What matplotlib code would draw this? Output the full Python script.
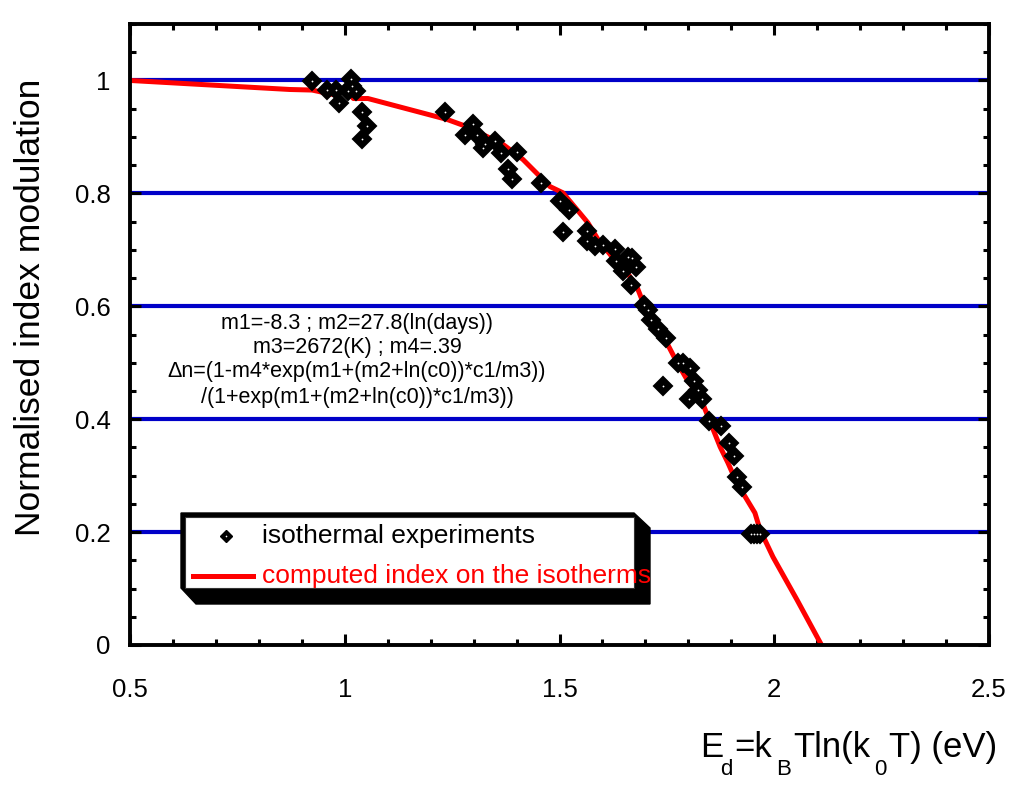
import numpy as np
import matplotlib
matplotlib.use("Agg")
import matplotlib.pyplot as plt
from matplotlib.ticker import MultipleLocator, FormatStrFormatter
from matplotlib.patches import Polygon, Rectangle

plt.rcParams['font.family'] = ['Liberation Sans', 'DejaVu Sans']

# isothermal experiments
exp_x = [0.923, 0.959, 0.979, 0.987, 1.014, 1.008, 1.026, 1.016, 1.041, 1.052, 1.041,
         1.234, 1.299, 1.280, 1.308, 1.326, 1.322, 1.350, 1.363, 1.400, 1.381, 1.390,
         1.458, 1.501, 1.521, 1.509, 1.565, 1.565, 1.583, 1.602, 1.630, 1.631, 1.647,
         1.660, 1.668, 1.677, 1.666, 1.697, 1.707, 1.712, 1.730, 1.748, 1.740, 1.777,
         1.787, 1.804, 1.813, 1.823, 1.831, 1.802, 1.849, 1.877, 1.895, 1.906, 1.914,
         1.924, 1.947, 1.954, 1.960, 1.967]
exp_y = [0.999, 0.983, 0.983, 0.960, 1.002, 0.981, 0.981, 0.990, 0.944, 0.920, 0.897,
         0.944, 0.922, 0.904, 0.904, 0.887, 0.880, 0.892, 0.871, 0.873, 0.843, 0.826,
         0.818, 0.787, 0.770, 0.732, 0.734, 0.716, 0.707, 0.709, 0.702, 0.680, 0.662,
         0.688, 0.685, 0.669, 0.638, 0.603, 0.594, 0.576, 0.560, 0.544, 0.459, 0.499,
         0.499, 0.491, 0.467, 0.452, 0.435, 0.435, 0.397, 0.388, 0.357, 0.334, 0.297,
         0.279, 0.197, 0.197, 0.197, 0.197]

# computed index on the isotherms
calc_x = [0.5, 0.872, 0.924, 0.973, 0.989, 1.010, 1.020, 1.054, 1.238, 1.285, 1.322,
          1.368, 1.415, 1.478, 1.508, 1.566, 1.590, 1.622, 1.657, 1.680, 1.695, 1.718,
          1.750, 1.774, 1.797, 1.827, 1.855, 1.874, 1.892, 1.913, 1.955, 1.967, 1.997,
          2.053, 2.110]
calc_y = [1.0, 0.984, 0.983, 0.975, 0.982, 0.982, 0.968, 0.968, 0.931, 0.918, 0.904,
          0.887, 0.860, 0.812, 0.801, 0.748, 0.718, 0.688, 0.660, 0.635, 0.606, 0.571,
          0.535, 0.500, 0.470, 0.440, 0.387, 0.351, 0.323, 0.287, 0.234, 0.204, 0.156,
          0.080, 0.0]

grid_levels = [0.2, 0.4, 0.6, 0.8, 1.0]
y_ticks = [0, 0.2, 0.4, 0.6, 0.8, 1.0]

note_lines = ["m1=-8.3 ; m2=27.8(ln(days))",
              "m3=2672(K) ; m4=.39",
              "\u0394n=(1-m4*exp(m1+(m2+ln(c0))*c1/m3))",
              "/(1+exp(m1+(m2+ln(c0))*c1/m3))"]

# x label pieces: (text, is_subscript)
xlabel_parts = [("E", False), ("d", True), ("=k", False), ("B", True),
                ("Tln(k", False), ("0", True), ("T) (eV)", False)]

W, H = 1024, 798
fig = plt.figure(figsize=(W / 100, H / 100), dpi=100)
ax = fig.add_axes([130 / W, 1 - 645 / H, (989 - 130) / W, (645 - 24) / H])

for g in grid_levels:
    ax.axhline(g, color='#0000c8', lw=3, zorder=1)

ax.plot(calc_x, calc_y, color='red', lw=3.6, zorder=2, solid_joinstyle='round')
ax.plot(exp_x, exp_y, ls='none', marker='D', ms=8.8, mfc='black', mec='black',
        mew=1.5, zorder=3)
ax.plot(exp_x, exp_y, ls='none', marker='o', ms=1.3, mfc='white', mec='none',
        zorder=4)

ax.set_xlim(0.5, 2.5)
ax.set_ylim(0, 1.1)
ax.xaxis.set_major_locator(MultipleLocator(0.5))
ax.xaxis.set_minor_locator(MultipleLocator(0.1))
ax.yaxis.set_minor_locator(MultipleLocator(0.05))
ax.set_yticks(y_ticks)
ax.xaxis.set_major_formatter(FormatStrFormatter('%g'))
ax.yaxis.set_major_formatter(FormatStrFormatter('%g'))

for s in ax.spines.values():
    s.set_linewidth(2.8)
ax.tick_params(which='both', direction='in', top=True, right=True, labelsize=18.5,
               width=2.2)
ax.tick_params(which='major', length=8)
ax.tick_params(which='minor', length=4)
ax.tick_params(axis='x', pad=24)
ax.tick_params(axis='y', pad=14)

fig.text(31 / W, 1 - 307 / H, "Normalised index modulation", rotation=90,
         ha='center', va='center', fontsize=25.5)

# x label drawn piece by piece, subscripts dropped well below the baseline
renderer = fig.canvas.get_renderer()
xpos = 700
for txt, sub in xlabel_parts:
    if sub:
        t = fig.text(xpos / W, 1 - 775 / H, txt, ha='left', va='baseline',
                     fontsize=16)
    else:
        t = fig.text(xpos / W, 1 - 757 / H, txt, ha='left', va='baseline',
                     fontsize=25)
    wpx = t.get_window_extent(renderer).width
    xpos += wpx + (2 if sub else (-3 if txt == "E" else 4))

line_y = [323, 347, 372, 397]
for txt, yy in zip(note_lines, line_y):
    fig.text(357 / W, 1 - yy / H, txt, ha='center', va='center', fontsize=15.5)

# legend with shaded box
def fp(x, y):
    return (x / W, 1 - y / H)

shadow = Polygon([fp(181, 513), fp(634, 513), fp(650, 528), fp(650, 604),
                  fp(196, 604), fp(181, 588)], closed=True, fc='black', ec='black',
                 transform=fig.transFigure, zorder=5)
fig.patches.append(shadow)
box = Rectangle(fp(185, 588), (634 - 185) / W, (588 - 517) / H, fc='white',
                ec='#333333', lw=0.8, transform=fig.transFigure, zorder=6)
fig.patches.append(box)
fig.lines.append(plt.Line2D([226 / W], [1 - 536 / H], ls='none', marker='D', ms=6,
                            mfc='black', mec='black', mew=1,
                            transform=fig.transFigure, zorder=7))
fig.lines.append(plt.Line2D([226 / W], [1 - 536 / H], ls='none', marker='o', ms=1.2,
                            mfc='white', mec='none',
                            transform=fig.transFigure, zorder=8))
fig.lines.append(plt.Line2D([193 / W, 253 / W], [1 - 576 / H, 1 - 576 / H],
                            color='red', lw=3.6, transform=fig.transFigure, zorder=7))
fig.text(262 / W, 1 - 536 / H, "isothermal experiments", ha='left', va='center',
         fontsize=19, zorder=8)
fig.text(262 / W, 1 - 576 / H, "computed index on the isotherms", ha='left',
         va='center', fontsize=19, color='red', zorder=8)

fig.savefig("out.png", dpi=100)
